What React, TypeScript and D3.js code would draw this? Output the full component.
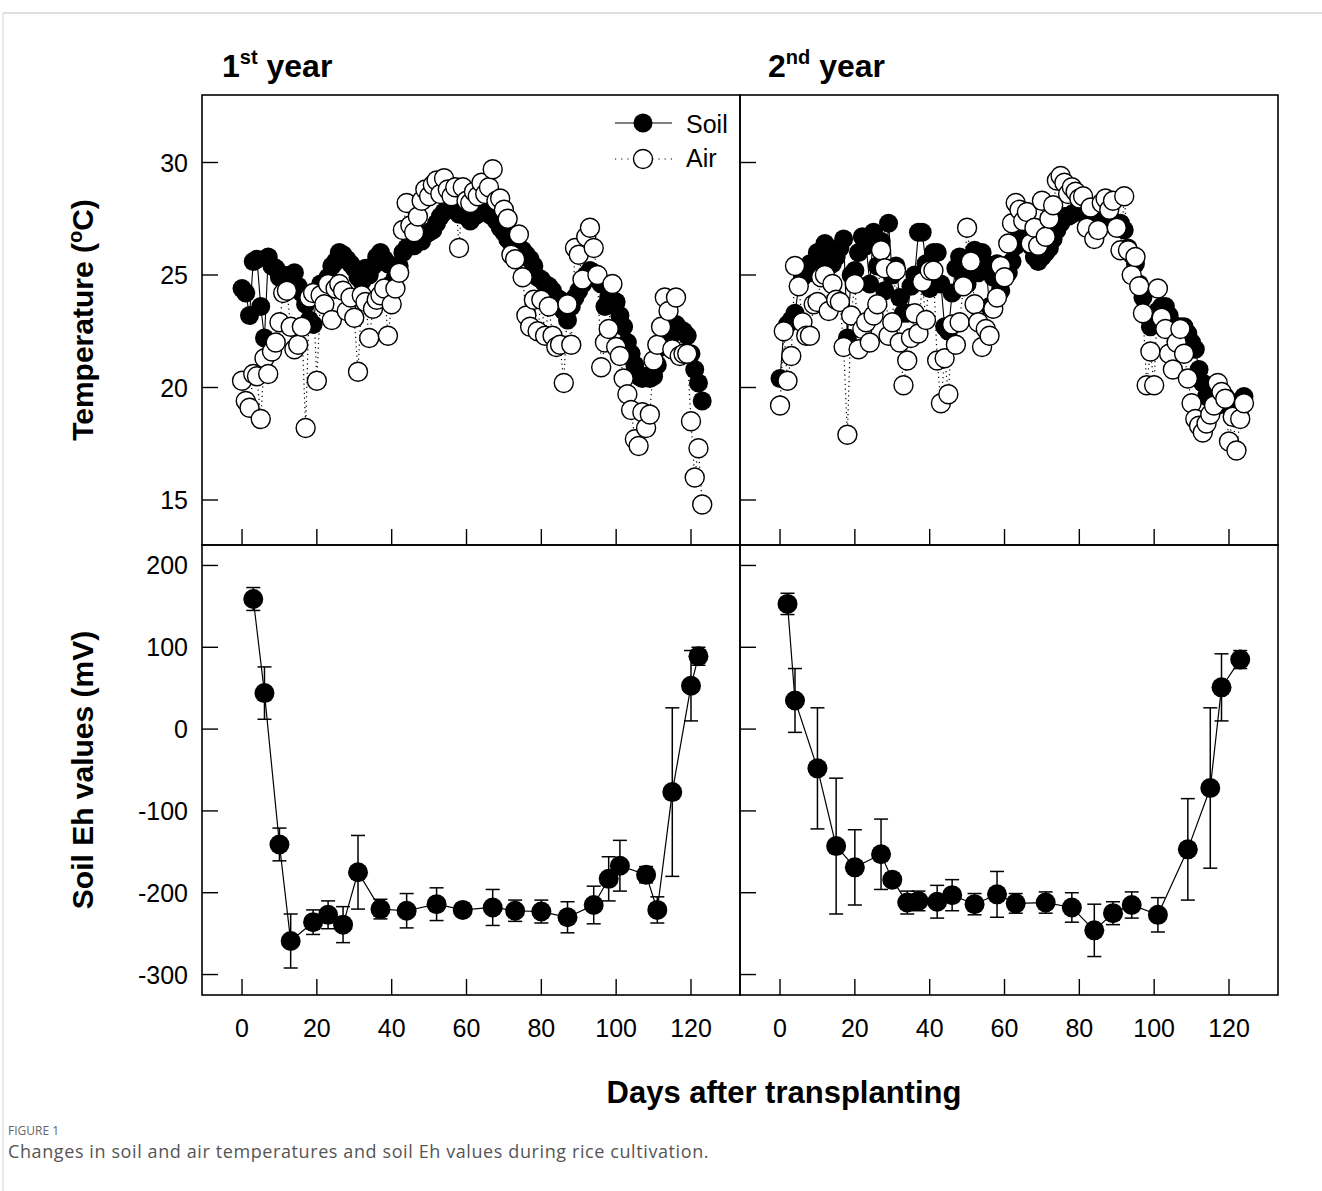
import * as d3 from "d3";
import React from "react";

// daily soil / air temperature (°C), index = days after transplanting
const soilTemp1 = [
  24.4, 24.2, 23.2, 25.6, 25.7, 23.6, 22.2, 25.8, 25.4, 25.3,
  24.9, 25.0, 24.9, 25.0, 25.1, 24.5, 24.2, 23.7, 23.0, 22.8,
  24.1, 24.6, 24.3, 24.9, 25.4, 25.6, 26.0, 25.9, 25.7, 25.5,
  25.3, 24.9, 24.7, 25.3, 25.0, 25.4, 25.8, 26.0, 25.7, 25.5,
  24.6, 24.9, 25.4, 26.0, 26.2, 26.4, 26.3, 26.7, 26.5, 26.8,
  26.9, 27.0, 27.3, 27.6, 27.8, 27.9, 28.1, 27.9, 27.7, 27.8,
  27.6, 27.4, 27.6, 27.7, 27.8, 27.8, 27.7, 27.6, 27.4, 27.1,
  26.9, 26.6, 26.4, 26.3, 26.2, 26.1, 25.9, 25.7, 25.4, 24.9,
  24.8, 24.6, 24.5, 24.3, 24.0, 23.9, 23.4, 23.0, 23.6, 24.0,
  24.3, 24.6, 25.0, 25.2, 25.1, 24.8, 24.6, 23.6, 24.0, 23.9,
  23.8, 23.2, 22.7, 22.0, 21.5, 21.0, 20.5, 20.4, 20.5, 20.4,
  20.5, 21.0, 21.8, 22.5, 22.7, 22.4, 22.8, 22.6, 22.5, 22.3,
  21.5, 20.8, 20.2, 19.4,
];
const airTemp1 = [
  20.3, 19.4, 19.1, 20.6, 20.5, 18.6, 21.3, 20.6, 21.6, 22.0,
  22.9, 24.2, 24.3, 22.7, 21.7, 21.9, 22.7, 18.2, 24.0, 24.2,
  20.3, 24.1, 23.7, 24.6, 23.0, 24.4, 24.6, 24.3, 23.4, 24.0,
  23.1, 20.7, 24.1, 23.8, 22.2, 23.5, 23.9, 24.1, 24.4, 22.3,
  23.7, 24.4, 25.1, 27.0, 28.2, 27.2, 26.9, 27.6, 28.3, 28.8,
  28.5, 29.0, 29.2, 28.6, 29.3, 28.8, 28.5, 28.9, 26.2, 28.9,
  28.3, 28.2, 28.7, 28.5, 29.1, 28.6, 28.9, 29.7, 28.3, 28.4,
  27.9, 27.5, 25.9, 25.7, 26.8, 24.9, 23.2, 22.7, 23.9, 22.5,
  23.9, 22.3, 23.6, 22.3, 21.8, 21.9, 20.2, 23.7, 21.9, 26.2,
  25.9, 24.8, 26.7, 27.1, 26.2, 25.0, 20.9, 22.0, 22.6, 24.6,
  21.8, 21.4, 20.4, 19.7, 19.0, 17.7, 17.4, 18.9, 18.2, 18.8,
  21.2, 21.9, 22.7, 24.0, 23.4, 21.7, 24.0, 21.4, 21.5, 21.5,
  18.5, 16.0, 17.3, 14.8,
];
const soilTemp2 = [
  20.4, 22.5, 22.8, 23.0, 23.3, 24.5, 24.9, 25.3, 25.5, 25.1,
  26.0, 25.8, 26.4, 26.2, 25.5, 25.8, 26.2, 26.6, 22.2, 25.0,
  25.2, 26.0, 26.7, 26.3, 24.6, 26.9, 25.4, 26.5, 24.3, 27.3,
  25.0, 25.4, 24.0, 23.3, 23.3, 24.5, 25.0, 26.9, 26.9, 25.5,
  24.4, 26.0, 26.0, 24.6, 22.7, 22.5, 24.2, 25.3, 25.8, 25.0,
  24.6, 25.7, 26.1, 25.1, 26.0, 25.5, 23.6, 24.9, 25.5, 24.3,
  25.0, 25.1, 25.6, 26.3, 26.8, 27.0, 26.6, 26.3, 25.8, 25.6,
  25.8, 26.0, 26.2, 26.6, 27.0, 27.3, 27.6, 27.6, 27.7, 27.8,
  27.8, 27.8, 27.8, 27.7, 27.8, 27.8, 27.6, 27.5, 27.4, 27.3,
  27.3, 27.3, 27.0, 26.2, 25.9, 25.5, 24.6, 24.0, 23.2, 22.7,
  23.0, 23.4, 23.6, 23.6, 23.2, 22.8, 22.6, 22.7, 22.7, 22.4,
  22.0, 21.7, 20.8, 20.2, 19.6, 19.5, 19.3, 19.2, 19.4, 19.6,
  19.4, 19.0, 18.8, 18.7, 19.6,
];
const airTemp2 = [
  19.2, 22.5, 20.3, 21.4, 25.4, 24.5, 22.9, 22.3, 22.3, 23.7,
  23.8, 24.9, 25.0, 23.4, 24.6, 23.9, 23.8, 21.8, 17.9, 23.2,
  24.6, 21.7, 22.6, 22.9, 22.0, 23.2, 23.7, 26.1, 25.3, 22.3,
  22.9, 25.2, 22.0, 20.1, 21.2, 22.2, 23.3, 22.4, 24.7, 23.0,
  25.2, 25.2, 21.2, 19.3, 21.3, 19.7, 22.8, 21.9, 22.9, 24.5,
  27.1, 25.6, 23.7, 22.9, 21.8, 22.6, 22.3, 23.5, 24.0, 25.4,
  24.9, 26.4, 27.3, 28.2, 27.9, 27.4, 27.8, 26.4, 27.1, 26.3,
  28.3, 26.7, 27.5, 28.1, 29.2, 29.4, 29.1, 28.6, 28.9, 28.7,
  28.4, 28.5, 27.1, 28.0, 26.6, 27.0, 28.2, 28.4, 27.9, 28.3,
  27.1, 26.1, 28.5, 26.1, 25.0, 25.8, 24.5, 23.3, 20.1, 21.6,
  20.1, 24.4, 23.1, 22.6, 21.5, 20.8, 22.0, 22.6, 21.5, 20.4,
  19.3, 18.6, 18.3, 18.0, 18.4, 18.8, 19.2, 20.2, 19.8, 19.5,
  17.6, 18.7, 17.2, 18.6, 19.3,
];

// soil Eh (mV) with error bars
const ehDays1 = [3, 6, 10, 13, 19, 23, 27, 31, 37, 44, 52, 59, 67, 73, 80, 87, 94, 98, 101, 108, 111, 115, 120, 122];
const ehMean1 = [159, 44, -141, -259, -236, -227, -239, -175, -220, -222, -214, -221, -218, -222, -223, -230, -215, -183, -167, -178, -221, -77, 53, 89];
const ehErr1 = [14, 32, 20, 33, 15, 17, 22, 45, 12, 21, 20, 8, 22, 13, 14, 19, 23, 27, 31, 10, 16, 103, 43, 11];

const ehDays2 = [2, 4, 10, 15, 20, 27, 30, 34, 37, 42, 46, 52, 58, 63, 71, 78, 84, 89, 94, 101, 109, 115, 118, 123];
const ehMean2 = [153, 35, -48, -143, -169, -153, -184, -212, -210, -211, -203, -214, -202, -213, -212, -218, -246, -225, -215, -227, -147, -72, 51, 85];
const ehErr2 = [13, 39, 74, 83, 46, 43, 8, 14, 12, 20, 19, 13, 28, 12, 13, 18, 32, 14, 16, 21, 62, 98, 41, 11];

const dayTicks = [0, 20, 40, 60, 80, 100, 120];
const tempTicks = [15, 20, 25, 30];
const ehTicks = [-300, -200, -100, 0, 100, 200];

const FONT = "'Liberation Sans', Arial, Helvetica, sans-serif";
const CAPTION_FONT = "'Open Sans', 'Noto Sans', sans-serif";
const dayDomain = [-10.7, 133.1];
const cols = [
  [202, 740],
  [740, 1278],
];
const topRow = [95, 545];
const botRow = [545, 995];
const TICK = 16;

function Frame({ x0, x1, y0, y1 }) {
  return <rect x={x0} y={y0} width={x1 - x0} height={y1 - y0} fill="none" stroke="#000" strokeWidth={1.6} />;
}

function TempPanel({ col, soil, air, showY, legend }) {
  const [x0, x1] = cols[col];
  const [y0, y1] = topRow;
  const x = d3.scaleLinear().domain(dayDomain).range([x0, x1]);
  const y = d3.scaleLinear().domain([13, 33]).range([y1, y0]);
  const line = d3
    .line<number>()
    .x((_, i) => x(i))
    .y((d) => y(d));

  return (
    <g>
      <path d={line(soil) || ""} fill="none" stroke="#000" strokeWidth={1.1} />
      <path d={line(air) || ""} fill="none" stroke="#000" strokeWidth={1.2} strokeDasharray="1.2,3.5" />
      {soil.map((v, i) => (
        <circle key={`s${i}`} cx={x(i)} cy={y(v)} r={9.5} fill="#000" />
      ))}
      {air.map((v, i) => (
        <circle key={`a${i}`} cx={x(i)} cy={y(v)} r={9.5} fill="#fff" stroke="#000" strokeWidth={1.4} />
      ))}
      <Frame x0={x0} x1={x1} y0={y0} y1={y1} />
      {tempTicks.map((t) => (
        <g key={t}>
          <line x1={x0} x2={x0 + TICK} y1={y(t)} y2={y(t)} stroke="#000" strokeWidth={1.4} />
          {showY && (
            <text x={x0 - 14} y={y(t) + 9} textAnchor="end" fontSize={25} fontFamily={FONT}>
              {t}
            </text>
          )}
        </g>
      ))}
      {dayTicks.map((t) => (
        <line key={t} x1={x(t)} x2={x(t)} y1={y1} y2={y1 - TICK} stroke="#000" strokeWidth={1.4} />
      ))}
      {legend && (
        <g fontFamily={FONT} fontSize={25}>
          <line x1={615} x2={672} y1={123} y2={123} stroke="#000" strokeWidth={1.2} />
          <circle cx={643} cy={123} r={9.5} fill="#000" />
          <text x={686} y={133}>Soil</text>
          <line x1={615} x2={672} y1={159} y2={159} stroke="#000" strokeWidth={1.2} strokeDasharray="1.2,5" />
          <circle cx={643} cy={159} r={9.5} fill="#fff" stroke="#000" strokeWidth={1.4} />
          <text x={686} y={167}>Air</text>
        </g>
      )}
    </g>
  );
}

function EhPanel({ col, days, mean, err, showY }) {
  const [x0, x1] = cols[col];
  const [y0, y1] = botRow;
  const x = d3.scaleLinear().domain(dayDomain).range([x0, x1]);
  const y = d3.scaleLinear().domain([-325, 225]).range([y1, y0]);
  const pts = days.map((d, i) => [d, mean[i], err[i]]);
  const line = d3
    .line<number[]>()
    .x((d) => x(d[0]))
    .y((d) => y(d[1]));

  return (
    <g>
      {pts.map(([d, m, e], i) => (
        <g key={`e${i}`} stroke="#000" strokeWidth={1.5}>
          <line x1={x(d)} x2={x(d)} y1={y(m + e)} y2={y(m - e)} />
          <line x1={x(d) - 7} x2={x(d) + 7} y1={y(m + e)} y2={y(m + e)} />
          <line x1={x(d) - 7} x2={x(d) + 7} y1={y(m - e)} y2={y(m - e)} />
        </g>
      ))}
      <path d={line(pts) || ""} fill="none" stroke="#000" strokeWidth={1.2} />
      {pts.map(([d, m], i) => (
        <circle key={`p${i}`} cx={x(d)} cy={y(m)} r={10} fill="#000" />
      ))}
      <Frame x0={x0} x1={x1} y0={y0} y1={y1} />
      {ehTicks.map((t) => (
        <g key={t}>
          <line x1={x0} x2={x0 + TICK} y1={y(t)} y2={y(t)} stroke="#000" strokeWidth={1.4} />
          {showY && (
            <text x={x0 - 14} y={y(t) + 9} textAnchor="end" fontSize={25} fontFamily={FONT}>
              {t}
            </text>
          )}
        </g>
      ))}
      {dayTicks.map((t) => (
        <g key={t}>
          <line x1={x(t)} x2={x(t)} y1={y1} y2={y1 - TICK} stroke="#000" strokeWidth={1.4} />
          <text x={x(t)} y={1037} textAnchor="middle" fontSize={25} fontFamily={FONT}>
            {t}
          </text>
        </g>
      ))}
    </g>
  );
}

export default function App() {
  return (
    <div style={{ position: "absolute", left: 0, top: 0, width: 1322, height: 1191, background: "#fff" }}>
      <svg width={1322} height={1191} style={{ display: "block" }}>
        <rect width={1322} height={1191} fill="#fff" />
        <line x1={3} x2={1322} y1={13} y2={13} stroke="#d4d4d4" strokeWidth={1.5} />
        <line x1={3} x2={3} y1={13} y2={1191} stroke="#e0e0e0" strokeWidth={1.5} />

        <text x={222} y={77} fontFamily={FONT} fontWeight="bold" fontSize={32}>
          1<tspan fontSize={20} dy={-13}>st</tspan>
          <tspan dy={13}> year</tspan>
        </text>
        <text x={768} y={77} fontFamily={FONT} fontWeight="bold" fontSize={32}>
          2<tspan fontSize={20} dy={-13}>nd</tspan>
          <tspan dy={13}> year</tspan>
        </text>

        <TempPanel col={0} soil={soilTemp1} air={airTemp1} showY={true} legend={true} />
        <TempPanel col={1} soil={soilTemp2} air={airTemp2} showY={false} legend={false} />
        <EhPanel col={0} days={ehDays1} mean={ehMean1} err={ehErr1} showY={true} />
        <EhPanel col={1} days={ehDays2} mean={ehMean2} err={ehErr2} showY={false} />

        <text
          transform="translate(93,320) rotate(-90)"
          textAnchor="middle"
          fontFamily={FONT}
          fontWeight="bold"
          fontSize={30}
        >
          Temperature (<tspan fontSize={20} dy={-11}>o</tspan>
          <tspan dy={11}>C)</tspan>
        </text>
        <text
          transform="translate(93,770) rotate(-90)"
          textAnchor="middle"
          fontFamily={FONT}
          fontWeight="bold"
          fontSize={30}
        >
          Soil Eh values (mV)
        </text>
        <text x={784} y={1103} textAnchor="middle" fontFamily={FONT} fontWeight="bold" fontSize={31}>
          Days after transplanting
        </text>

        <text x={8} y={1135} fontFamily={CAPTION_FONT} fontSize={12} fill="#666">
          FIGURE 1
        </text>
        <text x={8} y={1158} fontFamily={CAPTION_FONT} fontSize={18} letterSpacing={0.6} fill="#555">
          Changes in soil and air temperatures and soil Eh values during rice cultivation.
        </text>
      </svg>
    </div>
  );
}
